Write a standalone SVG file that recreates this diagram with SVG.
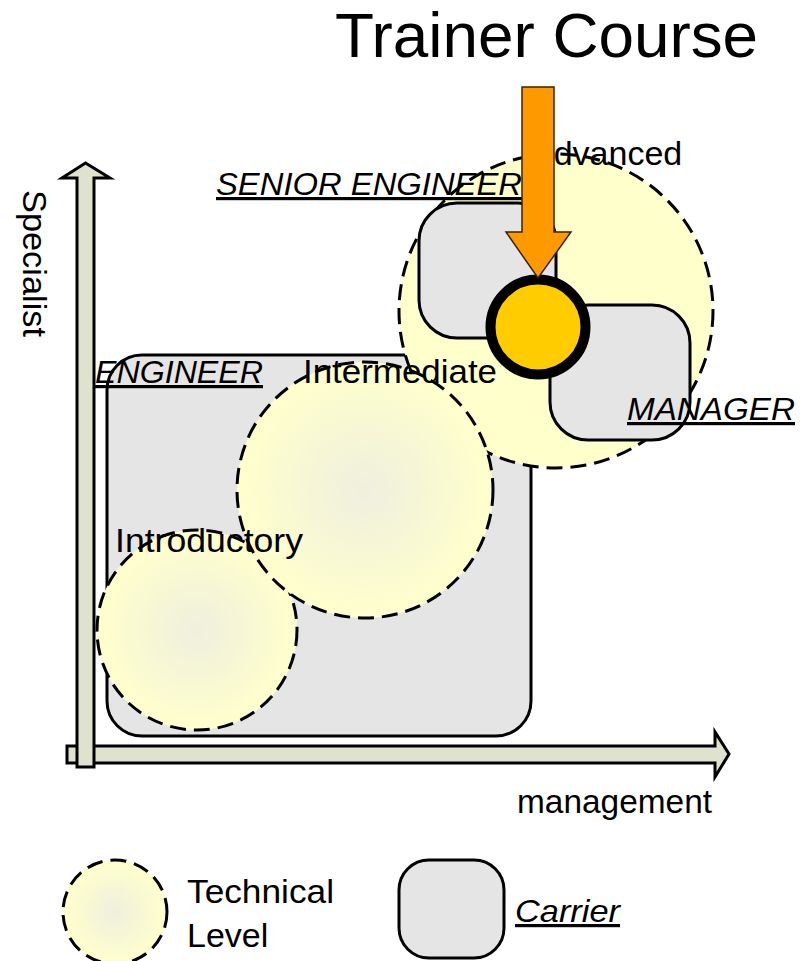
<svg xmlns="http://www.w3.org/2000/svg" width="803" height="961" viewBox="0 0 803 961">
<style>
.carrier{fill:#e5e5e5;stroke:#000;stroke-width:3}
.level{fill:url(#lvl);stroke:#000;stroke-width:3;stroke-dasharray:16 8}
.lbl{font-family:"Liberation Sans",Arial,sans-serif;font-size:34px;fill:#000}
.car{font-family:"Liberation Sans",Arial,sans-serif;font-size:32px;font-style:italic;text-decoration:underline;fill:#000}
.axis{fill:#dfe2cc;stroke:#000;stroke-width:3;stroke-linejoin:miter}
</style>
<defs>
<radialGradient id="lvl" cx="50%" cy="50%" r="50%">
<stop offset="0" stop-color="#efefdf"/>
<stop offset="0.55" stop-color="#f8f8d4"/>
<stop offset="1" stop-color="#ffffcc"/>
</radialGradient>
</defs>
<rect width="803" height="961" fill="#fff"/>

<g id="engineer">
<rect class="carrier" x="107" y="355" width="424" height="381" rx="35"/>
<text class="car" x="95" y="383" textLength="168" lengthAdjust="spacingAndGlyphs">ENGINEER</text>
</g>

<g id="advanced">
<circle cx="556" cy="311" r="157" fill="#ffffcc" stroke="#000" stroke-width="3" stroke-dasharray="16 8"/>
<text class="lbl" x="531" y="165">Advanced</text>
</g>

<g id="senior-engineer">
<rect class="carrier" x="419" y="203" width="137" height="135" rx="38"/>
<text class="car" x="216" y="195" textLength="306" lengthAdjust="spacingAndGlyphs">SENIOR ENGINEER</text>
</g>

<g id="manager">
<rect class="carrier" x="550" y="305" width="140" height="135" rx="38"/>
<text class="car" x="627" y="420" textLength="168" lengthAdjust="spacingAndGlyphs">MANAGER</text>
</g>

<g id="introductory">
<circle class="level" cx="197" cy="630" r="100"/>
</g>

<g id="intermediate">
<circle class="level" cx="365" cy="490" r="128"/>
<text class="lbl" x="303" y="383" textLength="194" lengthAdjust="spacingAndGlyphs">Intermediate</text>
</g>

<g id="introductory-label">
<text class="lbl" x="115" y="552" textLength="188" lengthAdjust="spacingAndGlyphs">Introductory</text>
</g>

<g id="trainer-course">
<circle cx="538" cy="327" r="47.5" fill="#ffcc00" stroke="#000" stroke-width="10"/>
<text x="335" y="57" font-family="Liberation Sans, Arial, sans-serif" font-size="63" fill="#000" textLength="423" lengthAdjust="spacingAndGlyphs">Trainer Course</text>
</g>

<g id="axis-labels">
<text class="lbl" transform="translate(23,190) rotate(90)" textLength="147" lengthAdjust="spacingAndGlyphs">Specialist</text>
<text class="lbl" x="517" y="813" textLength="195" lengthAdjust="spacingAndGlyphs">management</text>
</g>

<g id="legend">
<g id="legend-level">
<circle class="level" cx="115" cy="912" r="52"/>
<text class="lbl" x="187" y="903" textLength="147" lengthAdjust="spacingAndGlyphs">Technical</text>
<text class="lbl" x="187" y="947">Level</text>
</g>
<g id="legend-carrier">
<rect class="carrier" x="399" y="860" width="105" height="98" rx="30"/>
<text class="car" x="515" y="922" font-size="34" textLength="105" lengthAdjust="spacingAndGlyphs">Carrier</text>
</g>
</g>

<g id="connectors">
<polygon id="axis-management" class="axis" points="67,746 715,746 715,732 729,754 715,777 715,763 67,763"/>
<polygon id="axis-specialist" class="axis" points="77,767 77,178 62,178 85.5,163 110,178 94,178 94,767"/>
<polygon id="trainer-arrow" points="522,87 554,87 554,232 571,232 538,278 506,232 522,232" fill="#ff9900" stroke="#3a2200" stroke-width="1.5"/>
</g>
</svg>
